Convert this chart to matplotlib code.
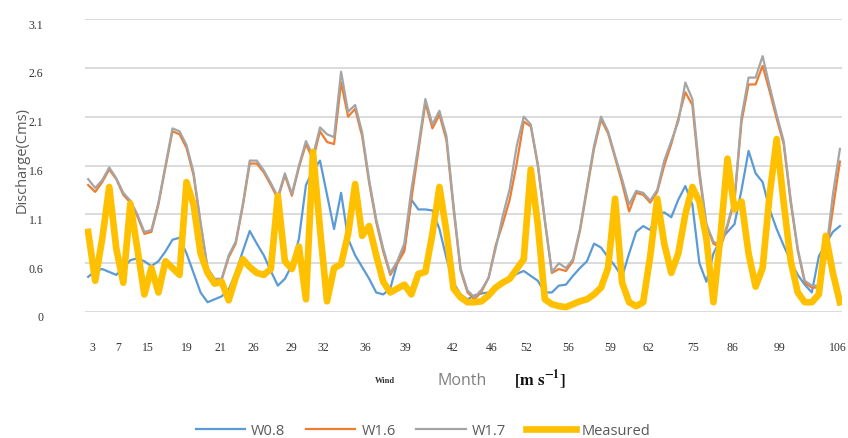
import numpy as np
import matplotlib
matplotlib.use("Agg")
import matplotlib.pyplot as plt
import matplotlib.transforms as mtransforms

# Simulated vs measured monthly discharge for three wind settings
w08 = [0.46, 0.52, 0.54, 0.51, 0.48, 0.55, 0.63, 0.65, 0.62, 0.57,
       0.62, 0.72, 0.84, 0.86, 0.70, 0.50, 0.30, 0.20, 0.23, 0.26,
       0.33, 0.50, 0.72, 0.93, 0.80, 0.68, 0.52, 0.37, 0.44, 0.58,
       0.85, 1.40, 1.55, 1.65, 1.30, 0.95, 1.32, 0.85, 0.68, 0.56,
       0.44, 0.30, 0.28, 0.34, 0.60, 0.74, 1.25, 1.15, 1.15, 1.14,
       0.95, 0.65, 0.40, 0.28, 0.23, 0.27, 0.29, 0.30, 0.35, 0.40,
       0.44, 0.49, 0.52, 0.47, 0.42, 0.30, 0.30, 0.37, 0.38, 0.47,
       0.55, 0.62, 0.80, 0.76, 0.66, 0.57, 0.46, 0.70, 0.92, 0.98,
       0.94, 1.10, 1.12, 1.07, 1.25, 1.39, 1.20, 0.60, 0.41, 0.70,
       0.84, 0.92, 1.00, 1.35, 1.75, 1.52, 1.43, 1.15, 0.95, 0.78,
       0.62, 0.48, 0.38, 0.30, 0.67, 0.80, 0.92, 0.98]

w16 = [1.40, 1.33, 1.43, 1.56, 1.46, 1.30, 1.22, 1.08, 0.90, 0.92,
       1.20, 1.58, 1.95, 1.92, 1.78, 1.50, 1.00, 0.54, 0.43, 0.43,
       0.66, 0.80, 1.18, 1.62, 1.62, 1.53, 1.40, 1.26, 1.50, 1.29,
       1.58, 1.82, 1.66, 1.95, 1.84, 1.82, 2.45, 2.10, 2.18, 1.90,
       1.42, 1.02, 0.72, 0.48, 0.60, 0.72, 1.25, 1.75, 2.24, 1.98,
       2.12, 1.86, 1.16, 0.53, 0.30, 0.23, 0.31, 0.45, 0.78, 1.00,
       1.25, 1.62, 2.05, 2.00, 1.60, 1.03, 0.50, 0.54, 0.52, 0.62,
       0.93, 1.35, 1.77, 2.07, 1.93, 1.68, 1.42, 1.13, 1.32, 1.30,
       1.22, 1.33, 1.60, 1.82, 2.08, 2.35, 2.22, 1.50, 0.98, 0.80,
       0.76, 0.98, 1.24, 2.05, 2.43, 2.43, 2.62, 2.36, 2.08, 1.82,
       1.22, 0.73, 0.40, 0.35, 0.35, 0.66, 1.15, 1.64]

w17 = [1.46, 1.37, 1.45, 1.58, 1.47, 1.32, 1.24, 1.10, 0.92, 0.94,
       1.22, 1.60, 1.98, 1.95, 1.81, 1.53, 1.02, 0.55, 0.44, 0.44,
       0.68, 0.82, 1.20, 1.65, 1.65, 1.55, 1.42, 1.28, 1.52, 1.31,
       1.60, 1.85, 1.70, 1.99, 1.92, 1.89, 2.56, 2.15, 2.22, 1.94,
       1.45, 1.05, 0.75, 0.50, 0.62, 0.80, 1.35, 1.80, 2.28, 2.02,
       2.16, 1.90, 1.20, 0.55, 0.32, 0.25, 0.33, 0.45, 0.75, 1.08,
       1.36, 1.80, 2.10, 2.02, 1.62, 1.05, 0.51, 0.60, 0.55, 0.64,
       0.95, 1.38, 1.80, 2.10, 1.95, 1.70, 1.46, 1.20, 1.34, 1.32,
       1.24, 1.35, 1.65, 1.85, 2.05, 2.45, 2.28, 1.55, 1.00, 0.82,
       0.78, 1.00, 1.26, 2.10, 2.50, 2.50, 2.72, 2.41, 2.12, 1.85,
       1.25, 0.75, 0.42, 0.37, 0.37, 0.70, 1.30, 1.77]

measured = [0.92, 0.42, 0.85, 1.38, 0.75, 0.40, 1.21, 0.75, 0.28, 0.55,
            0.30, 0.62, 0.55, 0.48, 1.43, 1.20, 0.70, 0.50, 0.39, 0.41,
            0.22, 0.45, 0.64, 0.56, 0.50, 0.48, 0.54, 1.29, 0.62, 0.54,
            0.77, 0.23, 1.74, 0.95, 0.21, 0.55, 0.59, 0.90, 1.41, 0.88,
            0.98, 0.68, 0.41, 0.30, 0.34, 0.38, 0.28, 0.49, 0.51, 0.90,
            1.38, 0.92, 0.34, 0.25, 0.20, 0.20, 0.21, 0.27, 0.35, 0.40,
            0.44, 0.54, 0.64, 1.56, 1.00, 0.23, 0.18, 0.16, 0.15, 0.18,
            0.21, 0.23, 0.28, 0.35, 0.55, 1.26, 0.40, 0.20, 0.16, 0.20,
            0.67, 1.26, 0.80, 0.50, 0.70, 1.10, 1.38, 1.23, 0.85, 0.20,
            0.88, 1.67, 1.15, 1.23, 0.70, 0.36, 0.55, 1.30, 1.87, 1.22,
            0.62, 0.30, 0.20, 0.20, 0.28, 0.88, 0.50, 0.20]

month_labels = ["3", "7", "15", "19", "21", "26", "29", "32", "36", "39",
                "42", "46", "52", "56", "59", "62", "75", "86", "99", "106"]
y_tick_values = [0.1, 0.6, 1.1, 1.6, 2.1, 2.6, 3.1]
y_tick_labels = ["0", "0.6", "1.1", "1.6", "2.1", "2.6", "3.1"]

# where each month label sits along the point index
month_tick_pos = [0.6, 4.3, 8.5, 14.1, 18.8, 23.5, 28.9, 33.4, 39.4, 45.1,
                  51.9, 57.5, 62.4, 68.3, 74.3, 79.7, 86.1, 91.7, 98.4, 106.7]

BLUE = "#5b9bd5"
ORANGE = "#ed7d31"
GRAY = "#a5a5a5"
YELLOW = "#ffc000"

fig = plt.figure(figsize=(8.48, 4.39), dpi=100)
ax = fig.add_axes([85 / 848, 126 / 439, 757 / 848, 293 / 439])

x = np.arange(len(measured))
ax.plot(x, w08, color=BLUE, lw=1.6, label="W0.8")
ax.plot(x, w16, color=ORANGE, lw=1.6, label="W1.6")
ax.plot(x, w17, color=GRAY, lw=1.6, label="W1.7")
ax.plot(x, measured, color=YELLOW, lw=4.8, label="Measured",
        solid_joinstyle="round")

ax.set_xlim(-0.45, 107.3)
ax.set_ylim(0.1, 3.1)
ax.set_yticks(y_tick_values)
ax.set_yticklabels(y_tick_labels, family="Liberation Serif", fontsize=8.5,
                   color="#333333")
ax.set_xticks(month_tick_pos)
ax.set_xticklabels(month_labels, family="Liberation Serif", fontsize=8.5,
                   color="#333333")
ax.tick_params(axis="y", length=0, pad=30)
ax.tick_params(axis="x", length=0, pad=21)

# y labels sit a few pixels below their gridlines
shift = mtransforms.ScaledTranslation(0, -4 / 100, fig.dpi_scale_trans)
for lbl in ax.get_yticklabels():
    lbl.set_transform(lbl.get_transform() + shift)

ax.grid(axis="y", color="#d9d9d9", lw=1.3)
ax.set_axisbelow(True)
for side in ax.spines.values():
    side.set_visible(False)

fig.text(22 / 848, 1 - 160 / 439, "Discharge(Cms)", rotation=90,
         ha="center", va="center", fontsize=10.5, color="#595959",
         family="Open Sans")

fig.text(385 / 848, 1 - 381 / 439, "Wind", ha="center", va="center",
         fontsize=6, family="Liberation Serif", fontweight="bold",
         color="#333333")
fig.text(462 / 848, 1 - 381 / 439, "Month", ha="center", va="center",
         fontsize=11.5, family="Open Sans", color="#7f7f7f")
plt.rcParams["mathtext.fontset"] = "stix"
fig.text(540 / 848, 1 - 380 / 439, r"$\mathbf{[m\ s^{-1}]}$",
         ha="center", va="center", fontsize=12, color="#111111")

fig.legend(loc="center", bbox_to_anchor=(423 / 848, 1 - 432 / 439), ncol=4,
           frameon=False, handlelength=3.4, columnspacing=1.4,
           handletextpad=0.4, labelcolor="#595959",
           prop={"family": "Open Sans", "size": 10.5})

fig.savefig("out.png", dpi=100)
